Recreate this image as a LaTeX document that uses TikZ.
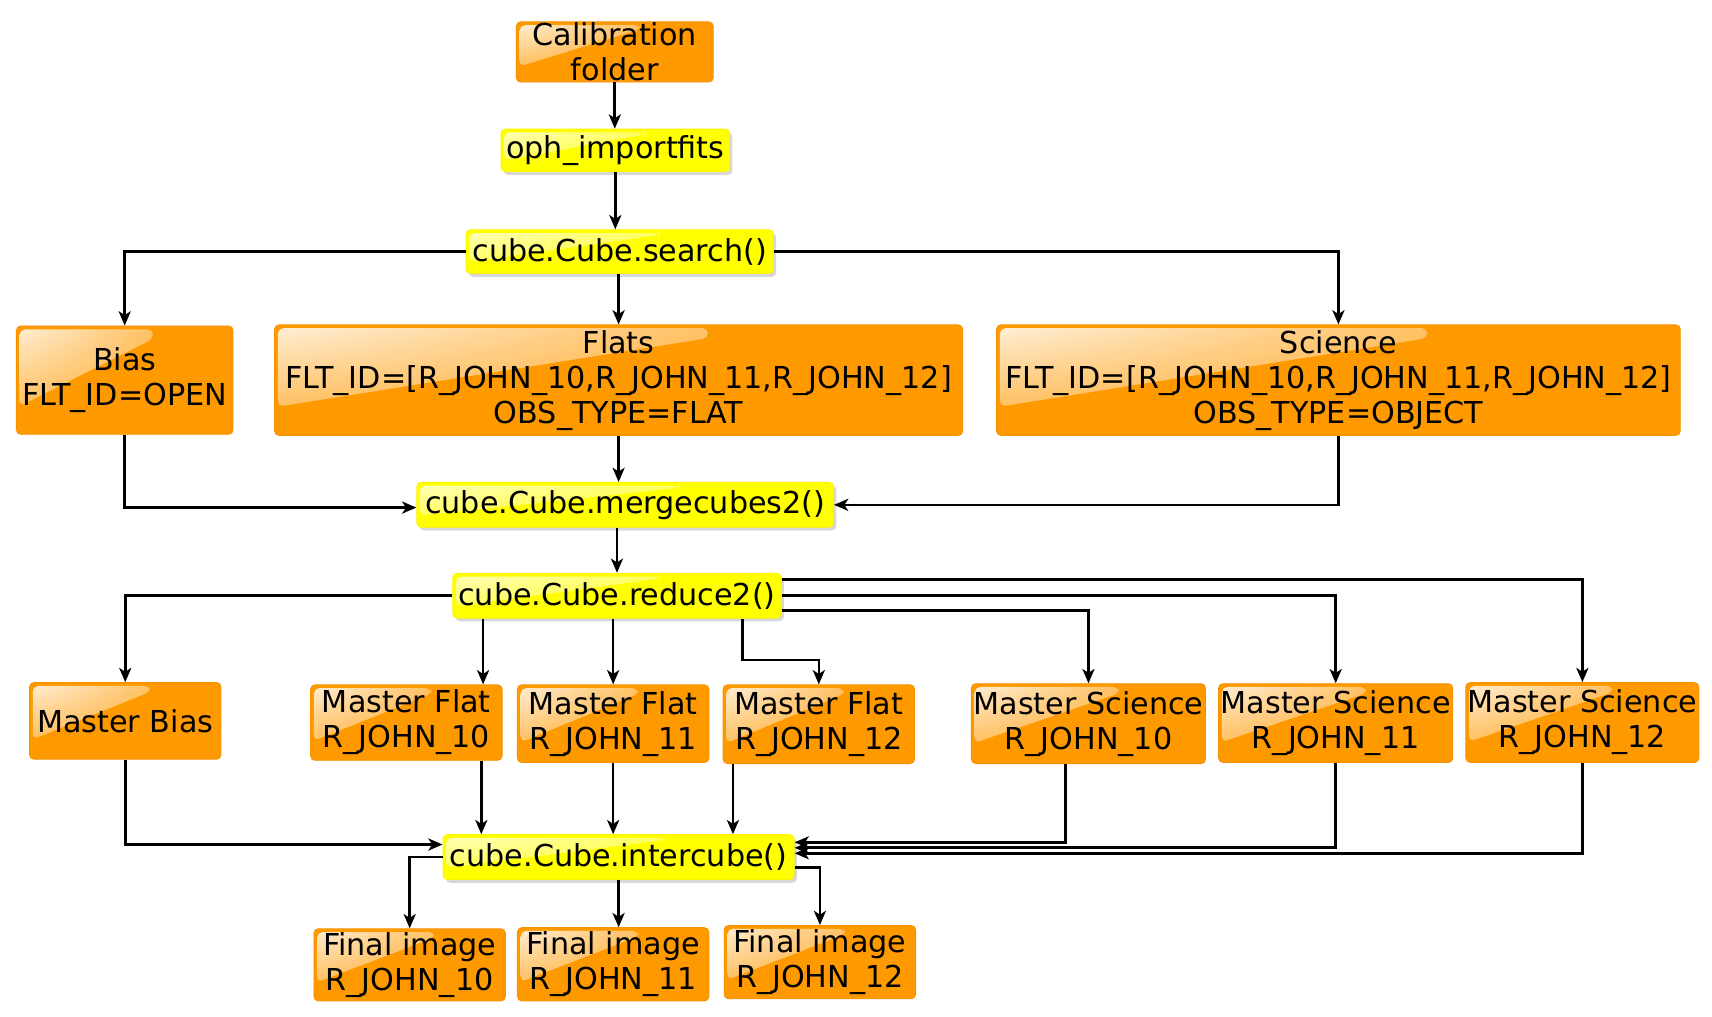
\documentclass[tikz,border=0pt]{standalone}
\usepackage{fontspec}
\setmainfont{DejaVu Sans}
\usetikzlibrary{arrows.meta,calc,shadows,shadings}
\definecolor{boxorange}{RGB}{255,153,0}
\definecolor{boxedge}{RGB}{246,146,0}
\definecolor{boxyellow}{RGB}{255,255,0}
\tikzset{
  gloss/.style n args={4}{path picture={
    \shade[upper left=#1, upper right=#2, lower left=#3, lower right=#4, rounded corners=5pt]
      let \p1=(path picture bounding box.north west),
          \p2=(path picture bounding box.south east) in
      (\x1+3pt,\y1-3pt) -- (\x1+0.63*\x2-0.63*\x1,\y1-3pt)
      -- (\x1+0.63*\x2-0.63*\x1,\y1-0.12*\y1+0.12*\y2)
      -- (\x1+3pt,\y1-0.74*\y1+0.74*\y2) -- cycle;
  }},
  obox/.style={rectangle, rounded corners=4pt, fill=boxorange, draw=boxedge, line width=0.8pt,
    align=center, inner sep=0pt, font=\fontsize{27.6}{32}\selectfont,
    gloss={boxorange!15!white}{boxorange!85!white}{boxorange!78!white}{boxorange!90!white}},
  ybox/.style={rectangle, rounded corners=4pt, fill=boxyellow, draw=boxyellow!90!orange, line width=0.8pt,
    align=center, inner sep=0pt, font=\fontsize{27.6}{32}\selectfont,
    drop shadow={shadow xshift=2.5pt, shadow yshift=-3pt, fill=black!35, opacity=0.45},
    gloss={boxyellow!25!white}{boxyellow!80!white}{boxyellow!75!white}{boxyellow!88!white}},
  conn/.style={line width=2.4pt, -{Stealth[length=13pt,width=11pt,inset=3.5pt]}},
}
\begin{document}
\begin{tikzpicture}[x=1pt,y=-1pt]
\useasboundingbox (0,0) rectangle (1565,929);
% nodes
\node[obox, minimum width=180, minimum height=55] (calib) at (562,47.5) {Calibration\\folder};
\node[ybox, minimum width=209, minimum height=39] (oph) at (562.5,137.5) {oph\_importfits};
\node[ybox, minimum width=281, minimum height=40] (search) at (566.5,230) {cube.Cube.search()};
\node[obox, minimum width=198, minimum height=99] (bias) at (114,347.5) {Bias\\FLT\_ID=OPEN};
\node[obox, minimum width=629, minimum height=101] (flats) at (565.5,347.5) {Flats\\FLT\_ID=[R\_JOHN\_10,R\_JOHN\_11,R\_JOHN\_12]\\OBS\_TYPE=FLAT};
\node[obox, minimum width=625, minimum height=101] (science) at (1223.5,347.5) {Science\\FLT\_ID=[R\_JOHN\_10,R\_JOHN\_11,R\_JOHN\_12]\\OBS\_TYPE=OBJECT};
\node[ybox, minimum width=381, minimum height=41] (merge) at (571.5,461.5) {cube.Cube.mergecubes2()};
\node[ybox, minimum width=300, minimum height=41] (reduce) at (564,544.5) {cube.Cube.reduce2()};
\node[obox, minimum width=175, minimum height=70] (mbias) at (114.5,659) {Master Bias};
\node[obox, minimum width=175, minimum height=69] (mf10) at (371.5,660.5) {Master Flat\\R\_JOHN\_10};
\node[obox, minimum width=175, minimum height=71] (mf11) at (560.5,661.5) {Master Flat\\R\_JOHN\_11};
\node[obox, minimum width=175, minimum height=72] (mf12) at (748.5,662) {Master Flat\\R\_JOHN\_12};
\node[obox, minimum width=214, minimum height=73] (ms10) at (995,661.5) {Master Science\\R\_JOHN\_10};
\node[obox, minimum width=214, minimum height=72] (ms11) at (1221,661) {Master Science\\R\_JOHN\_11};
\node[obox, minimum width=213, minimum height=73] (ms12) at (1446.5,660.5) {Master Science\\R\_JOHN\_12};
\node[ybox, minimum width=321, minimum height=41] (inter) at (565.5,783.5) {cube.Cube.intercube()};
\node[obox, minimum width=175, minimum height=66] (fi10) at (374.5,882) {Final image\\R\_JOHN\_10};
\node[obox, minimum width=175, minimum height=67] (fi11) at (560.5,881.5) {Final image\\R\_JOHN\_11};
\node[obox, minimum width=175, minimum height=67] (fi12) at (749.5,879.5) {Final image\\R\_JOHN\_12};
% helper coordinates
\coordinate (r10) at ($(reduce.south west)+(28,0)$);
\coordinate (r12) at ($(reduce.south west)+(265,0)$);
\coordinate (f10) at ($(mf10.south)+(68.5,0)$);
\coordinate (f12) at ($(mf12.south)+(-78.5,0)$);
\coordinate (s10) at ($(ms10.south)+(-21,0)$);
% connectors
\draw[conn] (calib.south) -- (calib.south |- oph.north);
\draw[conn] (oph.south) -- (oph.south |- search.north);
\draw[conn] (search.west) -| (bias.north);
\draw[conn] (search.south -| flats.north) -- (flats.north);
\draw[conn] (search.east) -| (science.north);
\draw[conn] (bias.south) |- ($(merge.west)+(0,2.5)$);
\draw[conn] (flats.south) -- (flats.south |- merge.north);
\draw[conn] (science.south) |- (merge.east);
\draw[conn] (reduce.north |- merge.south) -- (reduce.north);
\draw[conn] (reduce.west) -| (mbias.north);
\draw[conn] (r10) -- (r10 |- mf10.north);
\draw[conn] (reduce.south -| mf11.north) -- (mf11.north);
\draw[conn] (r12) -- ++(0,38) -| (mf12.north);
\draw[conn] ($(reduce.east)+(0,13.5)$) -| (ms10.north);
\draw[conn] (reduce.east) -| (ms11.north);
\draw[conn] ($(reduce.east)+(0,-14.5)$) -| (ms12.north);
\draw[conn] (mbias.south) |- ($(inter.west)+(0,-11.5)$);
\draw[conn] (f10) -- (f10 |- inter.north);
\draw[conn] (mf11.south) -- (mf11.south |- inter.north);
\draw[conn] (f12) -- (f12 |- inter.north);
\draw[conn] (s10) |- ($(inter.east)+(0,-13.5)$);
\draw[conn] (ms11.south) |- ($(inter.east)+(0,-8.5)$);
\draw[conn] (ms12.south) |- ($(inter.east)+(0,-3.5)$);
\draw[conn] (inter.west) -| (fi10.north);
\draw[conn] (inter.south) -- (inter.south |- fi11.north);
\draw[conn] ($(inter.east)+(0,9.5)$) -| (fi12.north);
\end{tikzpicture}
\end{document}
